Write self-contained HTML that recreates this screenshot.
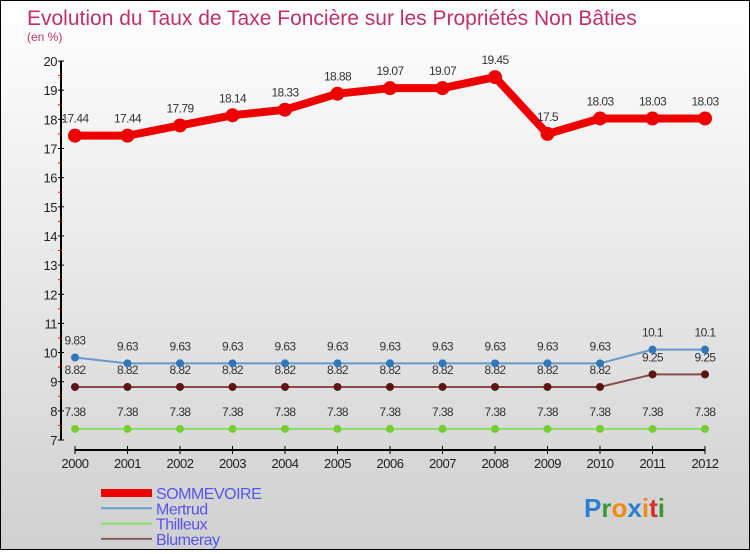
<!DOCTYPE html>
<html><head><meta charset="utf-8"><style>
html,body{margin:0;padding:0}
body{width:750px;height:550px;overflow:hidden;font-family:"Liberation Sans",sans-serif}
#wrap{position:relative;width:748px;height:548px;border:1px solid #000;background:linear-gradient(#ffffff,#d0d0d0)}
</style></head><body>
<div id="wrap">
<svg id="chart" width="748" height="548" xmlns="http://www.w3.org/2000/svg"></svg>
</div>
<script>
const years=[2000,2001,2002,2003,2004,2005,2006,2007,2008,2009,2010,2011,2012];
const sommevoire=[17.44,17.44,17.79,18.14,18.33,18.88,19.07,19.07,19.45,17.5,18.03,18.03,18.03];
const mertrud=[9.83,9.63,9.63,9.63,9.63,9.63,9.63,9.63,9.63,9.63,9.63,10.1,10.1];
const thilleux=[7.38,7.38,7.38,7.38,7.38,7.38,7.38,7.38,7.38,7.38,7.38,7.38,7.38];
const blumeray=[8.82,8.82,8.82,8.82,8.82,8.82,8.82,8.82,8.82,8.82,8.82,9.25,9.25];
const yTicks=[7,8,9,10,11,12,13,14,15,16,17,18,19,20];
const seriesNames=["SOMMEVOIRE","Mertrud","Thilleux","Blumeray"];

const svg=document.getElementById('chart');
const NS='http://www.w3.org/2000/svg';
function X(i){return 74+i*52.5;}
function Y(v){return 439-(v-7)*29.15;}
function mk(tag,attrs,parent){const e=document.createElementNS(NS,tag);for(const k in attrs)e.setAttribute(k,attrs[k]);(parent||svg).appendChild(e);return e;}
const font='"Liberation Sans",sans-serif';

let t=mk('text',{x:26,y:24,'font-size':21,fill:'#c0306a','font-family':font});
t.textContent='Evolution du Taux de Taxe Foncière sur les Propriétés Non Bâties';


t=mk('text',{x:26,y:40,'font-size':12,fill:'#c0306a','font-family':font});
t.textContent='(en %)';



// y axis
let ax=mk('line',{x1:60,y1:Y(20),x2:60,y2:Y(7),stroke:'#000','stroke-width':2});


yTicks.forEach(v=>{
  mk('line',{x1:57,y1:Y(v),x2:63,y2:Y(v),stroke:'#000','stroke-width':1});
  if(v<20) mk('line',{x1:57,y1:Y(v+0.5),x2:60,y2:Y(v+0.5),stroke:'#e00','stroke-width':1});
  const l=mk('text',{x:56,y:Y(v)+5,'font-size':13,fill:'#222','text-anchor':'end','font-family':font,'letter-spacing':'-0.5'});
  l.textContent=v;
  
  
});
// x axis
ax=mk('line',{x1:X(0),y1:449,x2:X(12),y2:449,stroke:'#000','stroke-width':2});


years.forEach((y,i)=>{
  mk('line',{x1:X(i),y1:445,x2:X(i),y2:453,stroke:'#000','stroke-width':1});
  const l=mk('text',{x:X(i),y:467,'font-size':13,fill:'#222','text-anchor':'middle','font-family':font,'letter-spacing':'-0.5'});
  l.textContent=y;
  
  
});

function series(vals,color,w,r,name,dot){
  const g=mk('g',{});
  
  
  const pl=mk('polyline',{points:vals.map((v,i)=>X(i)+','+Y(v)).join(' '),fill:'none',stroke:color,'stroke-width':w,'stroke-linejoin':'round'},g);
  
  
  vals.forEach((v,i)=>{
    const c=mk('circle',{cx:X(i),cy:Y(v),r:r,fill:dot},g);
    
    
    const l=mk('text',{x:X(i),y:Y(v)-13,'font-size':12,fill:'#333','text-anchor':'middle','font-family':font,'letter-spacing':'-0.6'},g);
    l.textContent=v;
    
    
  });
}
series(thilleux,'#88dd66',2,4,'thilleux','#77cc33');
series(blumeray,'#8b4a4a',2,4,'blumeray','#5a1515');
series(mertrud,'#6699cc',2,4,'mertrud','#3377bb');
series(sommevoire,'#ee0000',8,7,'sommevoire','#ee0000');

// legend
const lc=['#ee0000','#6aa0cc','#88dd66','#8b5a5a'];
const lw=[8,2,2,2];
seriesNames.forEach((n,i)=>{
  const y=492+i*15.3;
  const g=mk('g',{});
  
  
  mk('line',{x1:100,y1:y,x2:151,y2:y,stroke:lc[i],'stroke-width':lw[i]},g);
  const l=mk('text',{x:155,y:y+6,'font-size':16,fill:'#5555ee','font-family':font,'letter-spacing':'-0.5'},g);
  l.textContent=n;
});
// logo
const logo=mk('text',{x:583,y:516,'font-size':26,'font-family':font,'font-weight':'bold'});


[['P','#2a7fd0'],['r','#3a9a3a'],['o','#f08a10'],['x','#2a7fd0'],['i','#f08a10'],['t','#d03030'],['i','#3a9a3a']].forEach(([c,f])=>{const s=mk('tspan',{fill:f},logo);s.textContent=c;});
</script>
</body></html>
